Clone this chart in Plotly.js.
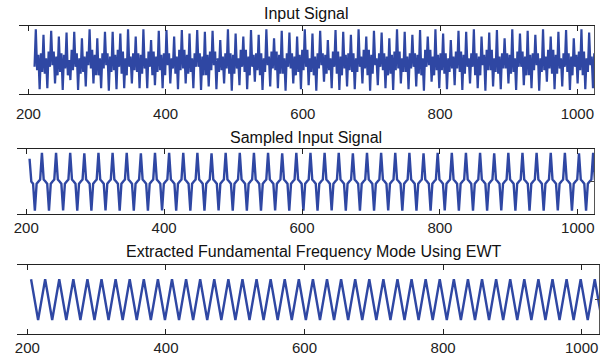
<!DOCTYPE html>
<html><head><meta charset="utf-8">
<script src="https://cdn.plot.ly/plotly-3.0.1.min.js"></script>
<style>html,body{margin:0;padding:0;background:#fff}#chart{width:602px;height:359px}</style>
</head><body><div id="chart"></div>
<script>
const xTicks = [200, 400, 600, 800, 1000];
const panelTitles = ["Input Signal", "Sampled Input Signal", "Extracted Fundamental Frequency Mode Using EWT"];

// Panel 1: input signal (sample start / spacing, values)
const inputStart = 208.93, inputStep = 1.8667;
const inputSignal = [-0.20,
0.90,-0.30,0.15,-0.86,0.20,-0.35, 0.74,-0.40,0.05,-0.83,0.25,-0.20, 0.86,-0.15,0.25,-0.69,0.10,-0.45,
0.69,-0.35,0.20,-0.88,0.15,-0.25, 0.81,-0.45,0.00,-0.59,0.30,-0.30, 0.83,-0.20,0.20,-0.88,0.05,-0.40,
0.64,-0.35,0.10,-0.78,0.25,-0.15, 0.90,-0.25,0.30,-0.69,0.15,-0.45, 0.64,-0.45,0.05,-0.83,0.20,-0.25,
0.83,-0.15,0.20,-0.90,0.10,-0.35, 0.83,-0.30,0.15,-0.86,0.30,-0.20, 0.78,-0.40,0.25,-0.83,0.05,-0.45,
0.90,-0.20,0.10,-0.69,0.20,-0.30, 0.69,-0.35,0.20,-0.83,0.15,-0.40, 0.90,-0.25,0.05,-0.83,0.25,-0.20,
0.59,-0.45,0.25,-0.74,0.10,-0.35, 0.86,-0.30,0.15,-0.83,0.20,-0.45, 0.88,-0.15,0.20,-0.69,0.05,-0.25,
0.69,-0.40,0.10,-0.86,0.30,-0.30, 0.88,-0.25,0.30,-0.69,0.15,-0.40, 0.78,-0.35,0.05,-0.83,0.20,-0.20,
0.88,-0.20,0.20,-0.88,0.10,-0.45, 0.83,-0.45,0.15,-0.78,0.25,-0.30, 0.86,-0.15,0.25,-0.86,0.05,-0.35,
0.59,-0.30,0.10,-0.69,0.20,-0.25, 0.90,-0.40,0.20,-0.90,0.15,-0.40, 0.78,-0.25,0.05,-0.74,0.30,-0.20,
0.69,-0.35,0.30,-0.86,0.10,-0.45, 0.88,-0.20,0.15,-0.64,0.20,-0.30, 0.74,-0.45,0.20,-0.88,0.05,-0.35,
0.90,-0.15,0.10,-0.78,0.25,-0.25, 0.64,-0.30,0.25,-0.83,0.15,-0.40, 0.86,-0.40,0.05,-0.90,0.20,-0.20,
0.81,-0.25,0.20,-0.69,0.10,-0.45, 0.69,-0.35,0.15,-0.86,0.30,-0.30, 0.90,-0.20,0.30,-0.74,0.05,-0.35,
0.78,-0.45,0.10,-0.90,0.20,-0.25, 0.86,-0.15,0.20,-0.64,0.15,-0.40, 0.59,-0.30,0.05,-0.83,0.25,-0.20,
0.88,-0.40,0.25,-0.88,0.10,-0.45, 0.83,-0.25,0.15,-0.78,0.20,-0.30, 0.74,-0.35,0.20,-0.86,0.05,-0.35,
0.90,-0.20,0.10,-0.69,0.30,-0.25, 0.69,-0.45,0.30,-0.90,0.15,-0.40, 0.86,-0.15,0.05,-0.74,0.20,-0.20,
0.81,-0.30,0.20,-0.83,0.10,-0.45, 0.64,-0.40,0.15,-0.88,0.25,-0.30, 0.90,-0.25,0.25,-0.69,0.05,-0.35,
0.83,-0.35,0.10,-0.86,0.20,-0.25, 0.74,-0.20,0.20,-0.78,0.15,-0.40, 0.88,-0.45,0.05,-0.90,0.30,-0.20,
0.69,-0.15,0.30,-0.64,0.10,-0.45, 0.90,-0.30,0.15,-0.83,0.20,-0.30, 0.78,-0.40,0.20,-0.86,0.05,-0.35,
0.59,-0.25,0.10,-0.74,0.25,-0.25, 0.86,-0.35,0.25,-0.88,0.15,-0.40, 0.83,-0.20,0.05,-0.69,0.20,-0.20,
0.90,-0.45,0.20,-0.83,0.10,-0.45, 0.69,-0.15,0.15,-0.90,0.30,-0.30, 0.81,-0.30,0.30,-0.78,0.05,-0.35,
0.88,-0.40,0.10,-0.86,0.20,-0.25, 0.64,-0.25,0.20,-0.69,0.15,-0.40, 0.90,-0.35,0.05,-0.88,0.25,-0.20,
0.78,-0.20,0.25,-0.74,0.10,-0.45, 0.86,-0.45,0.15,-0.83,0.20,-0.30, 0.74,-0.15,0.20,-0.90,0.05,-0.35,
0.90,-0.30,0.10,-0.64,0.30,-0.25, 0.69,-0.40,0.30,-0.86,0.15,-0.40, 0.83,-0.25,0.05,-0.78,0.20,-0.20,
0.88,-0.35,0.20,-0.88,0.10,-0.45, 0.64,-0.20,0.15,-0.69,0.25,-0.30, 0.90,-0.45,0.25,-0.86,0.05,-0.35,
0.81,-0.15,0.10,-0.83,0.20,-0.25];

// Panel 2: sampled input signal
const sampledStart = 204.81, sampledStep = 2.5625;
const sampledSignal = [0.70,0.00,-0.07,-0.90,-0.07,0.00,0.06,0.88,
0.06,0.00,-0.07,-0.90,-0.07,0.00,0.06,0.88, 0.06,0.00,-0.07,-0.89,-0.07,0.00,0.06,0.88,
0.06,0.00,-0.07,-0.90,-0.07,0.00,0.06,0.87, 0.06,0.00,-0.07,-0.90,-0.07,0.00,0.06,0.88,
0.06,0.00,-0.07,-0.89,-0.07,0.00,0.06,0.88, 0.06,0.00,-0.07,-0.90,-0.07,0.00,0.06,0.88,
0.06,0.00,-0.07,-0.90,-0.07,0.00,0.06,0.87, 0.06,0.00,-0.07,-0.90,-0.07,0.00,0.06,0.88,
0.06,0.00,-0.07,-0.89,-0.07,0.00,0.06,0.88, 0.06,0.00,-0.07,-0.90,-0.07,0.00,0.06,0.88,
0.06,0.00,-0.07,-0.90,-0.07,0.00,0.06,0.88, 0.06,0.00,-0.07,-0.90,-0.07,0.00,0.06,0.87,
0.06,0.00,-0.07,-0.89,-0.07,0.00,0.06,0.88, 0.06,0.00,-0.07,-0.90,-0.07,0.00,0.06,0.88,
0.06,0.00,-0.07,-0.90,-0.07,0.00,0.06,0.88, 0.06,0.00,-0.07,-0.90,-0.07,0.00,0.06,0.88,
0.06,0.00,-0.07,-0.89,-0.07,0.00,0.06,0.87, 0.06,0.00,-0.07,-0.90,-0.07,0.00,0.06,0.88,
0.06,0.00,-0.07,-0.90,-0.07,0.00,0.06,0.88, 0.06,0.00,-0.07,-0.90,-0.07,0.00,0.06,0.88,
0.06,0.00,-0.07,-0.89,-0.07,0.00,0.06,0.88, 0.06,0.00,-0.07,-0.90,-0.07,0.00,0.06,0.87,
0.06,0.00,-0.07,-0.90,-0.07,0.00,0.06,0.88, 0.06,0.00,-0.07,-0.90,-0.07,0.00,0.06,0.88,
0.06,0.00,-0.07,-0.89,-0.07,0.00,0.06,0.88, 0.06,0.00,-0.07,-0.90,-0.07,0.00,0.06,0.88,
0.06,0.00,-0.07,-0.90,-0.07,0.00,0.06,0.87, 0.06,0.00,-0.07,-0.90,-0.07,0.00,0.06,0.88,
0.06,0.00,-0.07,-0.89,-0.07,0.00,0.06,0.88, 0.06,0.00,-0.07,-0.90,-0.07,0.00,0.06,0.88,
0.06,0.00,-0.07,-0.90,-0.07,0.00,0.06,0.88, 0.06,0.00,-0.07,-0.90,-0.07,0.00,0.06,0.87,
0.06,0.00,-0.07,-0.89,-0.07,0.00,0.06,0.88, 0.06,0.00,-0.07,-0.90,-0.07,0.00,0.06,0.88,
0.06,0.00,-0.07,-0.90,-0.07,0.00,0.06,0.88, 0.06,0.00,-0.07,-0.90,-0.07,0.00,0.06,0.88,
0.06,0.00,-0.07,-0.89,-0.07,0.00,0.06,0.88, 0.06,0.00,-0.07,-0.90,-0.07,0.00,0.06,0.87,
0.06,0.00,-0.07,-0.90,-0.07,0.00,0.06,0.88, 0.06,0.00,-0.07,-0.90,-0.07,0.00,0.06,0.88,
0.06,0.00,-0.07,-0.89,-0.07,0.00,0.06,0.88];

// Panel 3: extracted fundamental mode (peak/trough samples)
const modeStart = 205.3, modeStep = 10.17;
const modeSignal = [0.585,-0.594,0.585,-0.594,0.585,-0.594,0.585,-0.594,0.585,-0.594,
0.585,-0.594,0.585,-0.594,0.585,-0.594,0.585,-0.594,0.585,-0.594,
0.585,-0.594,0.585,-0.594,0.585,-0.594,0.585,-0.594,0.585,-0.594,
0.585,-0.594,0.585,-0.594,0.585,-0.594,0.585,-0.594,0.585,-0.594,
0.585,-0.594,0.585,-0.594,0.585,-0.594,0.585,-0.594,0.585,-0.594,
0.585,-0.594,0.585,-0.594,0.585,-0.594,0.585,-0.594,0.585,-0.594,
0.585,-0.594,0.585,-0.594,0.585,-0.594,0.585,-0.594,0.585,-0.594,
0.585,-0.594,0.585,-0.594,0.585,-0.594,0.585,-0.594,0.585,-0.594,
0.585,-0.594];

const xsFrom = (start, step, vals) => vals.map((_, i) => start + i * step);

const W = 602, H = 359;
const lineColor = '#2f47a3';
const axisFont = {family: 'Liberation Sans, Arial, sans-serif', size: 15, color: '#222'};

const traces = [
  {x: xsFrom(inputStart, inputStep, inputSignal), y: inputSignal, xaxis: 'x', yaxis: 'y', line: {color: lineColor, width: 2.2}},
  {x: xsFrom(sampledStart, sampledStep, sampledSignal), y: sampledSignal, xaxis: 'x2', yaxis: 'y2', line: {color: lineColor, width: 2.4}},
  {x: xsFrom(modeStart, modeStep, modeSignal), y: modeSignal, xaxis: 'x3', yaxis: 'y3', line: {color: lineColor, width: 2.4}}
].map(t => Object.assign(t, {type: 'scatter', mode: 'lines', hoverinfo: 'skip'}));

function xa(d, r, anchor, standoff) {
  return {domain: [d[0] / W, d[1] / W], range: r, anchor: anchor, tickvals: xTicks, ticktext: xTicks.map(String),
    ticks: 'inside', ticklen: 5, tickwidth: 1, tickcolor: '#222', showline: true, linecolor: '#222', linewidth: 1,
    mirror: 'ticks', showgrid: false, zeroline: false, tickfont: axisFont, ticklabelstandoff: standoff};
}
function ya(top, bottom, anchor, tv) {
  return {domain: [1 - bottom / H, 1 - top / H], range: [-1, 1], anchor: anchor, side: 'right', showline: true,
    linecolor: '#555', linewidth: 1, ticks: 'inside', ticklen: 4, tickcolor: '#444', tickvals: tv,
    showticklabels: false, showgrid: false, zeroline: false};
}

const titleFont = {family: 'Liberation Sans, Arial, sans-serif', size: 16, color: '#111'};
const layout = {
  width: W, height: H, margin: {l: 0, r: 0, t: 0, b: 0}, paper_bgcolor: '#fff', plot_bgcolor: '#fff', showlegend: false,
  xaxis: xa([19, 594], [186.3, 1024.3], 'y', 6),
  yaxis: ya(26, 94, 'x', []),
  xaxis2: xa([17, 594], [186.6, 1023.5], 'y2', 0),
  yaxis2: ya(149, 214, 'x2', [0]),
  xaxis3: xa([17, 599], [185, 1025], 'y3', 0),
  yaxis3: ya(265, 334, 'x3', [0]),
  annotations: [
    {text: panelTitles[0], x: 306 / W, y: 1 - 14 / H},
    {text: panelTitles[1], x: 306 / W, y: 1 - 137 / H},
    {text: panelTitles[2], x: 314 / W, y: 1 - 252 / H}
  ].map(a => Object.assign(a, {xref: 'paper', yref: 'paper', xanchor: 'center', yanchor: 'middle', showarrow: false, font: titleFont}))
};

Plotly.newPlot('chart', traces, layout, {displayModeBar: false, staticPlot: true});
</script></body></html>
